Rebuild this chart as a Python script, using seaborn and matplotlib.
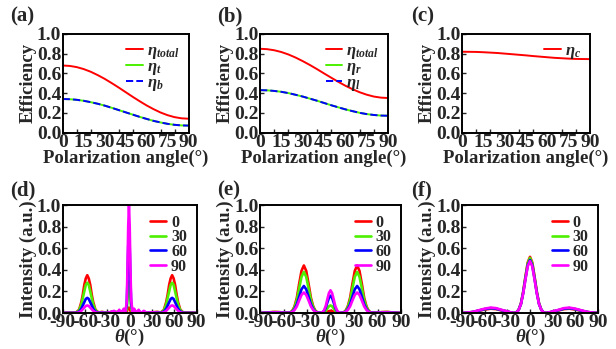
import matplotlib
matplotlib.use("Agg")
import matplotlib.pyplot as plt
import seaborn as sns
import pandas as pd

# ---------------- data ----------------
pol_angle = [0, 5, 10, 15, 20, 25, 30, 35, 40, 45, 50, 55, 60, 65, 70, 75, 80, 85, 90]
pol_ticks = [0, 15, 30, 45, 60, 75, 90]
pol_minor = [10, 20, 30, 40, 50, 60, 70, 80]
eff_ticks = [0.0, 0.2, 0.4, 0.6, 0.8, 1.0]

a_total = [0.68, 0.676, 0.664, 0.644, 0.617, 0.583, 0.545, 0.502, 0.457, 0.41,
           0.363, 0.318, 0.275, 0.237, 0.203, 0.176, 0.156, 0.144, 0.14]
a_t = [0.34, 0.338, 0.332, 0.322, 0.308, 0.292, 0.273, 0.251, 0.228, 0.205,
       0.182, 0.159, 0.138, 0.118, 0.102, 0.088, 0.078, 0.072, 0.07]
a_b = [0.34, 0.338, 0.332, 0.322, 0.308, 0.292, 0.273, 0.251, 0.228, 0.205,
       0.182, 0.159, 0.138, 0.118, 0.102, 0.088, 0.078, 0.072, 0.07]

b_total = [0.85, 0.846, 0.835, 0.817, 0.792, 0.761, 0.725, 0.686, 0.644, 0.60,
           0.557, 0.515, 0.475, 0.44, 0.409, 0.384, 0.365, 0.354, 0.35]
b_r = [0.43, 0.428, 0.422, 0.413, 0.40, 0.383, 0.365, 0.344, 0.323, 0.30,
       0.277, 0.256, 0.235, 0.217, 0.20, 0.187, 0.178, 0.172, 0.17]
b_l = [0.43, 0.428, 0.422, 0.413, 0.40, 0.383, 0.365, 0.344, 0.323, 0.30,
       0.277, 0.256, 0.235, 0.217, 0.20, 0.187, 0.178, 0.172, 0.17]

c_c = [0.82, 0.819, 0.818, 0.815, 0.811, 0.807, 0.801, 0.795, 0.789, 0.783,
       0.776, 0.77, 0.764, 0.758, 0.754, 0.75, 0.747, 0.746, 0.745]

theta_ticks = [-90, -60, -30, 0, 30, 60, 90]
series_names = ["0", "30", "60", "90"]

# (d)
theta_d = [-90, -84, -77, -72, -68, -65, -63, -61, -59, -57, -55, -53, -51, -49, -46,
           -42, -37, -30, -25, -21, -17, -14, -11, -8, -6, -4, -3, -2, -1, 0,
           1, 2, 4, 6, 9, 12, 15, 19, 23, 28, 37, 42, 46, 49, 51,
           53, 55, 57, 59, 61, 63, 65, 68, 72, 77, 84, 90]
d_0 = [0, 0.003, 0.003, 0.005, 0.03, 0.10, 0.17, 0.26, 0.32, 0.35, 0.32, 0.26, 0.17, 0.10, 0.03,
       0.005, 0.01, 0.0, 0.01, 0.0, 0.01, 0.0, 0.005, 0.0, 0.005, 0.01, 0.03, 0.045, 0.05, 0.04,
       0.02, 0.005, 0.0, 0.01, 0.0, 0.005, 0.0, 0.005, 0.0, 0.005, 0.01, 0.005, 0.03, 0.10, 0.17,
       0.26, 0.32, 0.35, 0.32, 0.26, 0.17, 0.10, 0.03, 0.005, 0.003, 0.003, 0]
d_30 = [0, 0.002, 0.002, 0.004, 0.025, 0.08, 0.14, 0.20, 0.26, 0.28, 0.26, 0.20, 0.14, 0.08, 0.025,
        0.004, 0.008, 0.0, 0.008, 0.0, 0.01, 0.0, 0.01, 0.0, 0.012, 0.03, 0.12, 0.23, 0.29, 0.23,
        0.12, 0.035, 0.0, 0.012, 0.0, 0.008, 0.0, 0.006, 0.0, 0.004, 0.008, 0.004, 0.025, 0.08, 0.14,
        0.20, 0.26, 0.28, 0.26, 0.20, 0.14, 0.08, 0.025, 0.004, 0.002, 0.002, 0]
d_60 = [0, 0.001, 0.001, 0.002, 0.013, 0.04, 0.07, 0.10, 0.13, 0.14, 0.13, 0.10, 0.07, 0.04, 0.013,
        0.002, 0.004, 0.0, 0.008, 0.015, 0.0, 0.02, 0.0, 0.03, 0.0, 0.08, 0.30, 0.61, 0.76, 0.61,
        0.30, 0.09, 0.0, 0.03, 0.0, 0.02, 0.0, 0.012, 0.0, 0.005, 0.004, 0.002, 0.013, 0.04, 0.07,
        0.10, 0.13, 0.14, 0.13, 0.10, 0.07, 0.04, 0.013, 0.002, 0.001, 0.001, 0]
d_90 = [0, 0.0, 0.0, 0.001, 0.006, 0.02, 0.035, 0.05, 0.065, 0.07, 0.065, 0.05, 0.035, 0.02, 0.006,
        0.001, 0.003, 0.0, 0.01, 0.02, 0.0, 0.03, 0.0, 0.04, 0.0, 0.10, 0.40, 0.80, 1.0, 0.80,
        0.40, 0.12, 0.0, 0.04, 0.0, 0.03, 0.0, 0.02, 0.0, 0.006, 0.003, 0.001, 0.006, 0.02, 0.035,
        0.05, 0.065, 0.07, 0.065, 0.05, 0.035, 0.02, 0.006, 0.001, 0.0, 0.0, 0]

# (e)
theta_e = [-90, -80, -72, -65, -58, -52, -49, -46, -43, -40, -37, -34, -31, -28, -25,
           -22, -19, -16, -13, -10, -8, -6, -4, -2, 0, 2, 4, 6, 8, 10,
           13, 16, 19, 22, 25, 28, 31, 34, 37, 40, 43, 46, 49, 52, 58,
           65, 72, 80, 90]
e_0 = [0, 0.005, 0.01, 0.008, 0.003, 0.004, 0.018, 0.06, 0.14, 0.27, 0.39, 0.44, 0.39, 0.27, 0.14,
       0.06, 0.018, 0.004, 0.0, 0.0, 0.003, 0.006, 0.012, 0.018, 0.02, 0.018, 0.012, 0.006, 0.003, 0.0,
       0.0, 0.004, 0.018, 0.06, 0.14, 0.27, 0.39, 0.44, 0.39, 0.27, 0.14, 0.06, 0.018, 0.004, 0.003,
       0.008, 0.01, 0.005, 0]
e_30 = [0, 0.004, 0.009, 0.007, 0.003, 0.004, 0.015, 0.053, 0.12, 0.23, 0.335, 0.38, 0.335, 0.23, 0.12,
        0.053, 0.015, 0.004, 0.003, 0.003, 0.01, 0.022, 0.043, 0.062, 0.07, 0.062, 0.043, 0.022, 0.01, 0.003,
        0.003, 0.004, 0.015, 0.053, 0.12, 0.23, 0.335, 0.38, 0.335, 0.23, 0.12, 0.053, 0.015, 0.004, 0.003,
        0.007, 0.009, 0.004, 0]
e_60 = [0, 0.003, 0.006, 0.005, 0.002, 0.003, 0.01, 0.035, 0.08, 0.15, 0.22, 0.25, 0.22, 0.15, 0.08,
        0.035, 0.01, 0.003, 0.002, 0.006, 0.022, 0.051, 0.098, 0.14, 0.16, 0.14, 0.098, 0.051, 0.022, 0.006,
        0.002, 0.003, 0.01, 0.035, 0.08, 0.15, 0.22, 0.25, 0.22, 0.15, 0.08, 0.035, 0.01, 0.003, 0.002,
        0.005, 0.006, 0.003, 0]
e_90 = [0, 0.002, 0.005, 0.004, 0.002, 0.002, 0.008, 0.027, 0.061, 0.116, 0.167, 0.19, 0.167, 0.116, 0.061,
        0.027, 0.008, 0.002, 0.002, 0.008, 0.029, 0.067, 0.128, 0.185, 0.21, 0.185, 0.128, 0.067, 0.029, 0.008,
        0.002, 0.002, 0.008, 0.027, 0.061, 0.116, 0.167, 0.19, 0.167, 0.116, 0.061, 0.027, 0.008, 0.002, 0.002,
        0.004, 0.005, 0.002, 0]

# (f)
theta_f = [-90, -84, -76, -68, -60, -52, -45, -38, -30, -25, -21, -18, -15, -12, -9,
           -6, -3, 0, 3, 6, 9, 12, 15, 18, 21, 25, 30, 38, 45, 52,
           60, 68, 76, 84, 90]
f_0 = [0, 0.002, 0.008, 0.02, 0.032, 0.04, 0.036, 0.024, 0.012, 0.004, 0.0, 0.005, 0.03, 0.088, 0.198,
       0.338, 0.468, 0.52, 0.468, 0.338, 0.198, 0.088, 0.03, 0.005, 0.0, 0.004, 0.012, 0.024, 0.036, 0.04,
       0.032, 0.02, 0.008, 0.002, 0]
f_30 = [0, 0.002, 0.009, 0.022, 0.036, 0.045, 0.04, 0.027, 0.013, 0.004, 0.0, 0.005, 0.03, 0.087, 0.194,
        0.332, 0.459, 0.51, 0.459, 0.332, 0.194, 0.087, 0.03, 0.005, 0.0, 0.004, 0.013, 0.027, 0.04, 0.045,
        0.036, 0.022, 0.009, 0.002, 0]
f_60 = [0, 0.002, 0.009, 0.022, 0.036, 0.045, 0.04, 0.027, 0.013, 0.004, 0.0, 0.005, 0.029, 0.083, 0.186,
        0.319, 0.441, 0.49, 0.441, 0.319, 0.186, 0.083, 0.029, 0.005, 0.0, 0.004, 0.013, 0.027, 0.04, 0.045,
        0.036, 0.022, 0.009, 0.002, 0]
f_90 = [0, 0.003, 0.01, 0.025, 0.04, 0.05, 0.045, 0.03, 0.015, 0.005, 0.0, 0.005, 0.029, 0.082, 0.182,
        0.312, 0.432, 0.48, 0.432, 0.312, 0.182, 0.082, 0.029, 0.005, 0.0, 0.005, 0.015, 0.03, 0.045, 0.05,
        0.04, 0.025, 0.01, 0.003, 0]

# ---------------- style ----------------
sns.set_style("ticks")
plt.rcParams["font.family"] = ["Liberation Serif", "DejaVu Serif"]
plt.rcParams["font.weight"] = "bold"
plt.rcParams["axes.labelweight"] = "bold"
plt.rcParams["mathtext.fontset"] = "custom"
plt.rcParams["mathtext.rm"] = "Liberation Serif:bold"
plt.rcParams["mathtext.it"] = "Liberation Serif:italic:bold"
plt.rcParams["mathtext.bf"] = "Liberation Serif:bold"

RED = "#ff0000"
GREEN = "#4cf000"
BLUE = "#0000ff"
MAG = "#ff00ff"

fig = plt.figure(figsize=(6.16, 3.49), dpi=100)

W, H = 616.0, 349.0
def add_ax(x0, x1, y0, y1):
    return fig.add_axes([x0 / W, 1 - y1 / H, (x1 - x0) / W, (y1 - y0) / H])

ax_a = add_ax(62.7, 188.5, 34, 132.5)
ax_b = add_ax(260, 388, 34, 132.5)
ax_c = add_ax(462, 590, 34, 132.5)
ax_d = add_ax(62.7, 196.7, 205, 313)
ax_e = add_ax(260, 401, 205, 313)
ax_f = add_ax(462, 598, 205, 313)

TICK_FS = 14
LAB_FS = 13.5

def style_ax(ax):
    for s in ax.spines.values():
        s.set_linewidth(1.4)
        s.set_color("black")
    ax.tick_params(direction="in", length=3, width=1.0, labelsize=TICK_FS, pad=1.0)
    for lab in ax.get_xticklabels() + ax.get_yticklabels():
        lab.set_fontweight("bold")

def top_panel(ax, series):
    for y, col, ls, lab in series:
        sns.lineplot(x=pol_angle, y=y, ax=ax, color=col, linestyle=ls, linewidth=1.4,
                     label=lab, sort=False)
    ax.set_xlim(0, 90)
    ax.set_ylim(0, 1.0)
    ax.set_xticks(pol_ticks)
    ax.set_xticks(pol_minor, minor=True)
    ax.set_yticks(eff_ticks)
    ax.set_xticklabels([str(t) for t in pol_ticks])
    ax.set_yticklabels([f"{t:.1f}" for t in eff_ticks])
    ax.set_xlabel("Polarization angle(°)", fontsize=LAB_FS, fontweight="bold", labelpad=-1)
    ax.set_ylabel("Efficiency", fontsize=LAB_FS, fontweight="bold", labelpad=0)
    style_ax(ax)
    ax.tick_params(axis="x", which="major", length=0)
    ax.tick_params(axis="x", which="minor", direction="in", length=3, width=1.0)
    ax.legend(frameon=False, loc="upper right", fontsize=12, handlelength=1.0,
              handletextpad=0.25, labelspacing=-0.12, borderaxespad=0.15)

def bottom_panel(ax, theta, ys):
    for y, col, lab in zip(ys, [RED, GREEN, BLUE, MAG], series_names):
        sns.lineplot(x=theta, y=y, ax=ax, color=col, linewidth=1.9, label=lab, sort=False)
    ax.set_xlim(-90, 90)
    ax.set_ylim(0, 1.0)
    ax.set_xticks(theta_ticks)
    ax.set_yticks(eff_ticks)
    ax.set_xticklabels([str(t) for t in theta_ticks])
    ax.set_yticklabels([f"{t:.1f}" for t in eff_ticks])
    ax.set_xlabel(r"$\theta$(°)", fontsize=LAB_FS, fontweight="bold", labelpad=-3)
    ax.set_ylabel("Intensity (a.u.)", fontsize=LAB_FS, fontweight="bold", labelpad=0)
    style_ax(ax)
    ax.legend(frameon=False, loc="upper right", fontsize=11.5, handlelength=1.0,
              handletextpad=0.3, labelspacing=-0.08, borderaxespad=0.2)

top_panel(ax_a, [(a_total, RED, "-", r"$\eta_{total}$"),
                 (a_t, GREEN, "-", r"$\eta_{t}$"),
                 (a_b, BLUE, "--", r"$\eta_{b}$")])
top_panel(ax_b, [(b_total, RED, "-", r"$\eta_{total}$"),
                 (b_r, GREEN, "-", r"$\eta_{r}$"),
                 (b_l, BLUE, "--", r"$\eta_{l}$")])
top_panel(ax_c, [(c_c, RED, "-", r"$\eta_{c}$")])

bottom_panel(ax_d, theta_d, [d_0, d_30, d_60, d_90])
bottom_panel(ax_e, theta_e, [e_0, e_30, e_60, e_90])
bottom_panel(ax_f, theta_f, [f_0, f_30, f_60, f_90])

# panel letters
for lab, x, y in [("(a)", 10, 16), ("(b)", 217, 16), ("(c)", 411, 16),
                  ("(d)", 10, 190), ("(e)", 217, 190), ("(f)", 411, 190)]:
    fig.text(x / W, 1 - y / H, lab, fontsize=15, fontweight="bold", va="center", ha="left")

fig.savefig("out.png", dpi=100)
